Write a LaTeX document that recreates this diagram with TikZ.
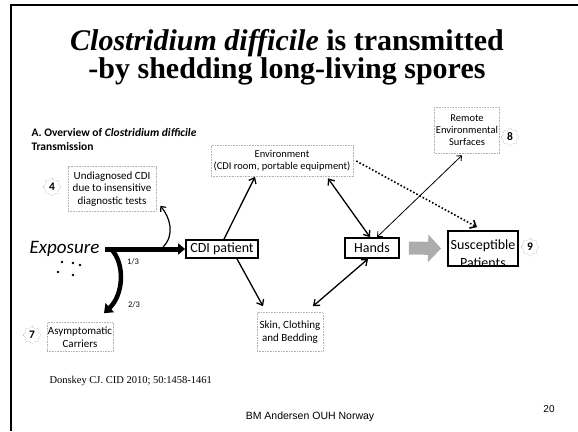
\documentclass[tikz,border=0pt]{standalone}
\usepackage{fontspec}
\setmainfont{Liberation Serif}
\newfontfamily\labelfont{Carlito}
\newfontfamily\footfont{Liberation Sans}
\usetikzlibrary{arrows.meta, positioning, shapes.geometric}

\begin{document}
\begin{tikzpicture}[x=1pt, y=-1pt,
  thinbox/.style={draw=gray!60, densely dotted, line width=0.6pt, align=center, inner sep=1pt,
    font=\labelfont\fontsize{10.5}{12}\selectfont},
  boldbox/.style={draw, line width=1.8pt, align=center, inner sep=1pt,
    font=\labelfont\fontsize{14}{18}\selectfont},
  badge/.style={star, star points=8, star point ratio=1.25, draw=gray!70, densely dotted,
    line width=0.5pt, minimum size=18pt, inner sep=0pt, font=\labelfont\bfseries\fontsize{11.5}{11.5}\selectfont},
  link/.style={line width=1.3pt, -{Straight Barb[length=5pt,width=8pt]}},
  both/.style={line width=1.3pt, {Straight Barb[length=5pt,width=8pt]}-{Straight Barb[length=5pt,width=8pt]}},
  fat/.style={line width=4.5pt, -{Triangle[length=8pt,width=12pt]}},
  small/.style={font=\labelfont\fontsize{8.5}{8.5}\selectfont}]
\useasboundingbox (0,0) rectangle (578,431);
\draw[line width=1.5pt] (11,431) -- (11,5) -- (578,5);

\node[font=\fontsize{30}{25}\selectfont\bfseries, align=center] (title) at (287,57)
  {\textit{Clostridium difficile} is transmitted\\-by shedding long-living spores};
\node[anchor=north west, align=left, font=\labelfont\bfseries\fontsize{11.5}{14}\selectfont] (over) at (28,125)
  {A. Overview of \textit{Clostridium difficile}\\Transmission};

\node[thinbox, font=\labelfont\fontsize{11}{12.5}\selectfont, minimum width=88pt, minimum height=45pt] (und) at (112,189)
  {Undiagnosed CDI\\due to insensitive\\diagnostic tests};
\node[badge] (b4) at (52,187) {4};
\node[anchor=east, font=\labelfont\itshape\fontsize{19}{19}\selectfont] (expo) at (103,249) {Exposure};
\node[boldbox, minimum width=72pt, minimum height=18pt] (cdi) at (222,249) {CDI patient};
\node[thinbox, minimum width=142pt, minimum height=31pt] (env) at (282,161) {Environment\\(CDI room, portable equipment)};
\node[boldbox, minimum width=54pt, minimum height=20pt] (hands) at (372,248) {Hands};
\node[boldbox, minimum width=70pt, minimum height=35pt] (susc) at (483,248.5)
  {\raisebox{-18.5pt}[0pt][0pt]{\begin{tabular}[b]{@{}c@{}}Susceptible\\Patients\end{tabular}}};
\node[badge] (b9) at (530,247) {9};
\node[thinbox, minimum width=65pt, minimum height=46pt] (remote) at (467,130) {Remote\\Environmental\\Surfaces};
\node[badge] (b8) at (510,137) {8};
\node[thinbox, font=\labelfont\fontsize{11}{13}\selectfont, minimum width=66pt, minimum height=39pt] (skin) at (290,332)
  {Skin, Clothing\\and Bedding};
\node[thinbox, font=\labelfont\fontsize{11}{13}\selectfont, minimum width=65pt, minimum height=29pt] (asym) at (80,337)
  {Asymptomatic\\Carriers};
\node[badge] (b7) at (32,335) {7};

\coordinate (fork) at ([xshift=2pt]expo.east);
\coordinate (tip7) at ([xshift=24pt,yshift=9pt]asym.north);
\draw[line width=5pt, -{Triangle[length=7pt,width=11pt]}] (fork) -- (cdi.west);
\draw[fat] ([xshift=6pt]fork) .. controls +(14,14) and +(20,-19) .. (tip7);
\draw[line width=1.2pt, -{Straight Barb[length=4pt,width=7pt]}] ([xshift=58pt,yshift=2pt]fork)
  .. controls +(12,-12) and +(10,12) .. ([xshift=4pt,yshift=6pt]und.south east);
\node[small] (third) at (133,262) {1/3};
\node[small] (twothirds) at (134,305) {2/3};
\foreach \x/\y in {62/262, 73/263, 80/265, 58/272, 73/275}
  \fill (\x,\y) circle (1.4);

\draw[link] ([xshift=2pt]cdi.north) -- ([xshift=-27pt]env.south);
\draw[link] ([xshift=15pt]cdi.south) -- ([xshift=-27pt,yshift=6pt]skin.north);
\draw[both] ([xshift=46pt,yshift=-1.5pt]env.south) -- ([xshift=-2pt]hands.north);
\draw[both] ([xshift=-4pt]hands.south) -- ([xshift=23pt,yshift=6pt]skin.north);
\draw[line width=0.8pt, {Straight Barb[length=4pt,width=7pt]}-{Straight Barb[length=4pt,width=7pt]}]
  ([xshift=5pt]hands.north) -- ([xshift=-5pt,yshift=-2pt]remote.south);
\draw[line width=1.6pt, dotted, -{Straight Barb[length=5pt,width=9pt]}] ([xshift=3pt]env.east) -- ([xshift=-6pt,yshift=3pt]susc.north);
\draw[line width=13pt, gray!65, -{Triangle[length=13pt,width=27pt]}] ([xshift=9pt]hands.east) -- ([xshift=-6pt]susc.west);

\node[anchor=west, font=\fontsize{10.5}{12}\selectfont] (ref) at (46,381) {Donskey CJ. CID 2010; 50:1458-1461};
\node[font=\footfont\fontsize{10.5}{12}\selectfont] (author) at (310,417) {BM Andersen OUH Norway};
\node[font=\footfont\fontsize{10}{12}\selectfont] (page) at (549,409) {20};
\end{tikzpicture}
\end{document}
